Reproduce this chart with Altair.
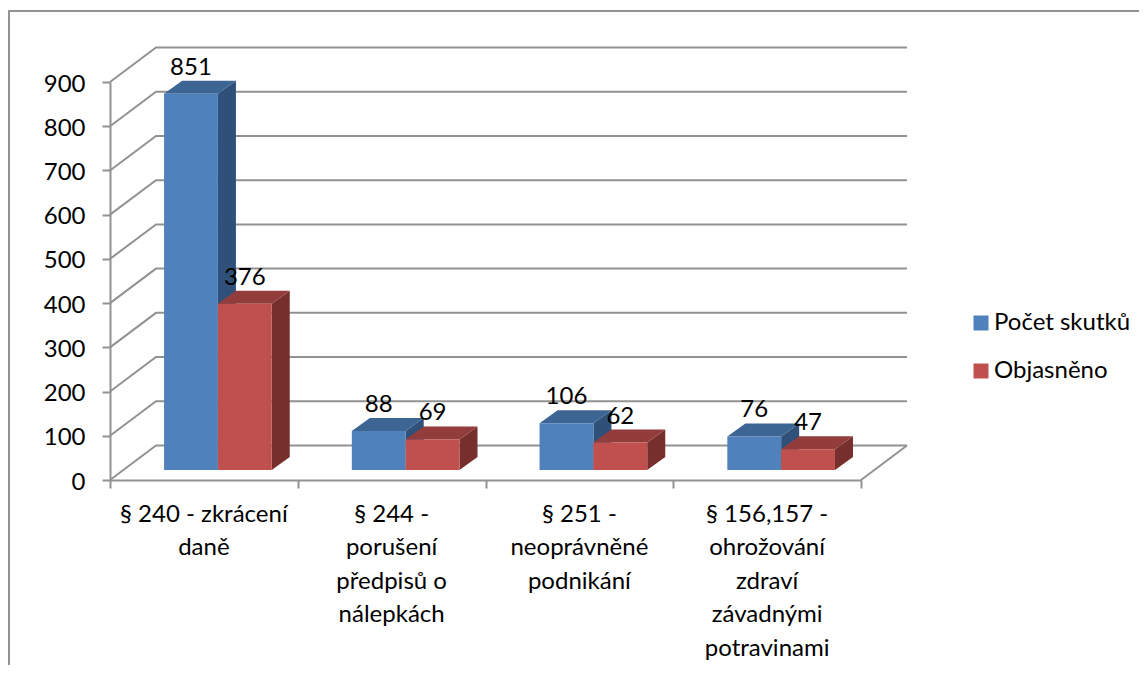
import altair as alt
import pandas as pd

CATEGORIES = ["§ 240 - zkrácení\ndaně", "§ 244 -\nporušení\npředpisů o\nnálepkách",
              "§ 251 -\nneoprávněné\npodnikání", "§ 156,157 -\nohrožování\nzdraví\nzávadnými\npotravinami"]
SERIES = ["Počet skutků", "Objasněno"]
POCET = [851, 88, 106, 76]
OBJASNENO = [376, 69, 62, 47]
FRONT = ["#4F81BD", "#C0504D"]
TOP = ["#3C6594", "#923D3B"]
SIDE = ["#2F5079", "#772F2D"]
GRID_VALUES = [0, 100, 200, 300, 400, 500, 600, 700, 800, 900]

# oblique projection, in axis units
WALL_DX, WALL_DY = 0.245, 78
LIFT = 22.6
BAR_START, BAR_W = 0.288, 0.2867
BAR_DX, BAR_DY = 0.096, 29.4
GRID = "#929292"
FONT = "Lato"
FS = 24

xs = alt.Scale(domain=[0, 4], nice=False, zero=False)
ys = alt.Scale(domain=[0, 900], nice=False, zero=False)
xax = alt.Axis(values=[0, 1, 2, 3, 4], labels=False, title=None, grid=False, tickSize=8,
               tickColor=GRID, domainColor=GRID, tickWidth=2, domainWidth=2)
yax = alt.Axis(values=GRID_VALUES, title=None, grid=False, tickSize=8, labelPadding=17, labelOffset=2,
               tickColor=GRID, domainColor=GRID, tickWidth=2, domainWidth=2,
               labelFont=FONT, labelFontSize=FS, labelColor="black")


def X(f):
    return alt.X(f, type="quantitative", scale=xs, axis=xax)


def Y(f):
    return alt.Y(f, type="quantitative", scale=ys, axis=yax)


# wall gridlines and floor
grid_rows = []
for v in GRID_VALUES:
    grid_rows += [dict(g=v, o=0, x=0, y=v), dict(g=v, o=1, x=WALL_DX, y=v + WALL_DY),
                  dict(g=v, o=2, x=4 + WALL_DX, y=v + WALL_DY)]
grid_rows += [dict(g=-1, o=0, x=4, y=0), dict(g=-1, o=1, x=4 + WALL_DX, y=WALL_DY)]
grid = alt.Chart(pd.DataFrame(grid_rows)).mark_line(color=GRID, strokeWidth=2).encode(
    x=X("x"), y=Y("y"), detail="g:N", order="o:Q")

layers = [grid]
labels = []
for s, vals in enumerate([POCET, OBJASNENO]):
    side, top, front = [], [], []
    for i, v in enumerate(vals):
        x0 = i + BAR_START + s * BAR_W
        x1 = x0 + BAR_W
        side += [dict(b=i, x=x1, y=LIFT, y2=LIFT + v),
                 dict(b=i, x=x1 + BAR_DX, y=LIFT + BAR_DY, y2=LIFT + BAR_DY + v)]
        top += [dict(b=i, y=LIFT + v, x=x0, x2=x1),
                dict(b=i, y=LIFT + v + BAR_DY, x=x0 + BAR_DX, x2=x1 + BAR_DX)]
        front.append(dict(series=SERIES[s], x=x0, x2=x1, y=LIFT, y2=LIFT + v))
        labels.append(dict(x=(x0 + x1) / 2, y=LIFT + v, t=str(v)))
    layers.append(alt.Chart(pd.DataFrame(side)).mark_area(color=SIDE[s]).encode(
        x=X("x"), y=Y("y"), y2="y2", detail="b:N"))
    layers.append(alt.Chart(pd.DataFrame(top)).mark_area(color=TOP[s], orient="horizontal").encode(
        x=X("x"), x2="x2", y=Y("y"), detail="b:N"))
    layers.append(alt.Chart(pd.DataFrame(front)).mark_rect().encode(
        x=X("x"), x2="x2", y=Y("y"), y2="y2",
        color=alt.Color("series:N", scale=alt.Scale(domain=SERIES, range=FRONT),
                        legend=alt.Legend(title=None, orient="none", legendX=859, legendY=229,
                                          symbolType="square", symbolSize=225, symbolStrokeWidth=0,
                                          labelFont=FONT, labelFontSize=FS, labelColor="black",
                                          rowPadding=24, labelOffset=1, padding=0))))

data_labels = alt.Chart(pd.DataFrame(labels)).mark_text(
    font=FONT, fontSize=FS, color="black", dy=-26, baseline="middle").encode(
    x=X("x"), y=Y("y"), text="t:N")

cat_labels = alt.Chart(pd.DataFrame(dict(x=[i + 0.5 for i in range(4)], t=CATEGORIES))).mark_text(
    font=FONT, fontSize=FS, color="black", baseline="top", lineBreak="\n", lineHeight=33.5).encode(
    x=X("x"), y=alt.value(420.5), text="t:N")

frame_top = alt.Chart(pd.DataFrame(dict(a=[0]))).mark_rule(color=GRID, strokeWidth=2).encode(
    x=alt.value(-102), x2=alt.value(1029), y=alt.value(-71))
frame_left = alt.Chart(pd.DataFrame(dict(a=[0]))).mark_rule(color=GRID, strokeWidth=2).encode(
    x=alt.value(-101), y=alt.value(-71), y2=alt.value(584))

chart = alt.layer(*layers, data_labels, cat_labels, frame_top, frame_left).properties(
    width=751, height=398,
    padding={"left": 102, "top": 74, "right": 278, "bottom": 185},
    autosize=alt.AutoSizeParams(type="none"),
    background="white",
).configure_view(stroke=None)

chart.save("out.html", embed_options={"renderer": "svg", "actions": False})
